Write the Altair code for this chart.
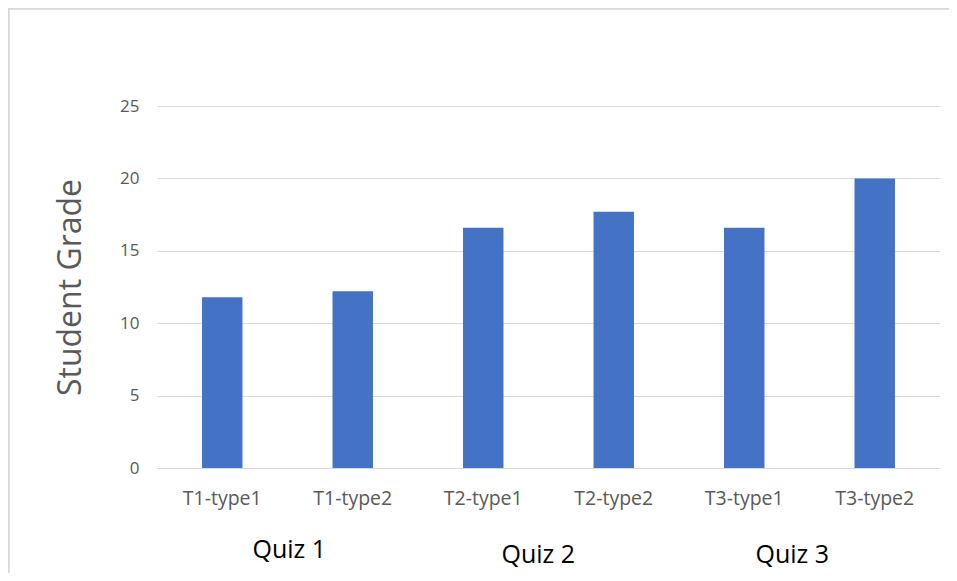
import altair as alt
import pandas as pd

categories = ["T1-type1", "T1-type2", "T2-type1", "T2-type2", "T3-type1", "T3-type2"]
grades = [11.8, 12.2, 16.6, 17.7, 16.6, 20.0]
quiz_labels = ["Quiz 1", "Quiz 2", "Quiz 3"]
quiz_anchor = ["T1-type1", "T2-type1", "T3-type1"]

df = pd.DataFrame({"cat": categories, "grade": grades})

FONT = "Open Sans"
GRAY = "#595959"
GRID = "#d9d9d9"

x_axis = alt.Axis(
    title=None, labelAngle=0, ticks=False, domain=True, domainColor=GRID,
    labelFont=FONT, labelFontSize=19.5, labelColor=GRAY, labelPadding=21,
    grid=False,
)
x = alt.X(
    "cat:N",
    sort=categories,
    scale=alt.Scale(paddingInner=0.69, paddingOuter=0.345),
    axis=x_axis,
)
y = alt.Y(
    "grade:Q",
    scale=alt.Scale(domain=[0, 25], nice=False),
    axis=alt.Axis(
        title="Student Grade", values=[0, 5, 10, 15, 20, 25], ticks=False,
        domain=False, grid=True, gridColor=GRID, gridWidth=1,
        labelFont=FONT, labelFontSize=17, labelColor=GRAY, labelPadding=18,
        titleFont=FONT, titleFontSize=32, titleFontWeight="normal",
        titleColor=GRAY, titlePadding=32,
    ),
)

bars = alt.Chart(df).mark_bar(color="#4472C4").encode(x=x, y=y)

layers = [bars]
quiz_dx = [67, 55, 48]
quiz_y = [444, 449, 449]
for lab, anc, dx, yy in zip(quiz_labels, quiz_anchor, quiz_dx, quiz_y):
    qdf = pd.DataFrame({"cat": [anc], "label": [lab]})
    t = alt.Chart(qdf).mark_text(
        font=FONT, fontSize=25, color="#000000", dx=dx, baseline="middle", align="center"
    ).encode(
        x=alt.X("cat:N", sort=categories, axis=x_axis),
        y=alt.value(yy),
        text="label:N",
    )
    layers.append(t)

border_v = alt.Chart(df).mark_rule(color=GRID, strokeWidth=1.5).encode(
    x=alt.value(-148.5), y=alt.value(-97.5), y2=alt.value(470)
)
border_h = alt.Chart(df).mark_rule(color=GRID, strokeWidth=1.5).encode(
    x=alt.value(-148.5), x2=alt.value(800), y=alt.value(-97.5)
)
layers += [border_v, border_h]

chart = alt.layer(*layers).properties(
    width=783,
    height=362,
    background="white",
    autosize=alt.AutoSizeParams(type="none"),
    padding={"left": 149, "top": 98, "right": 9, "bottom": 105},
).configure_view(stroke=None)

chart.save("out.html", embed_options={"renderer": "svg", "actions": False})
